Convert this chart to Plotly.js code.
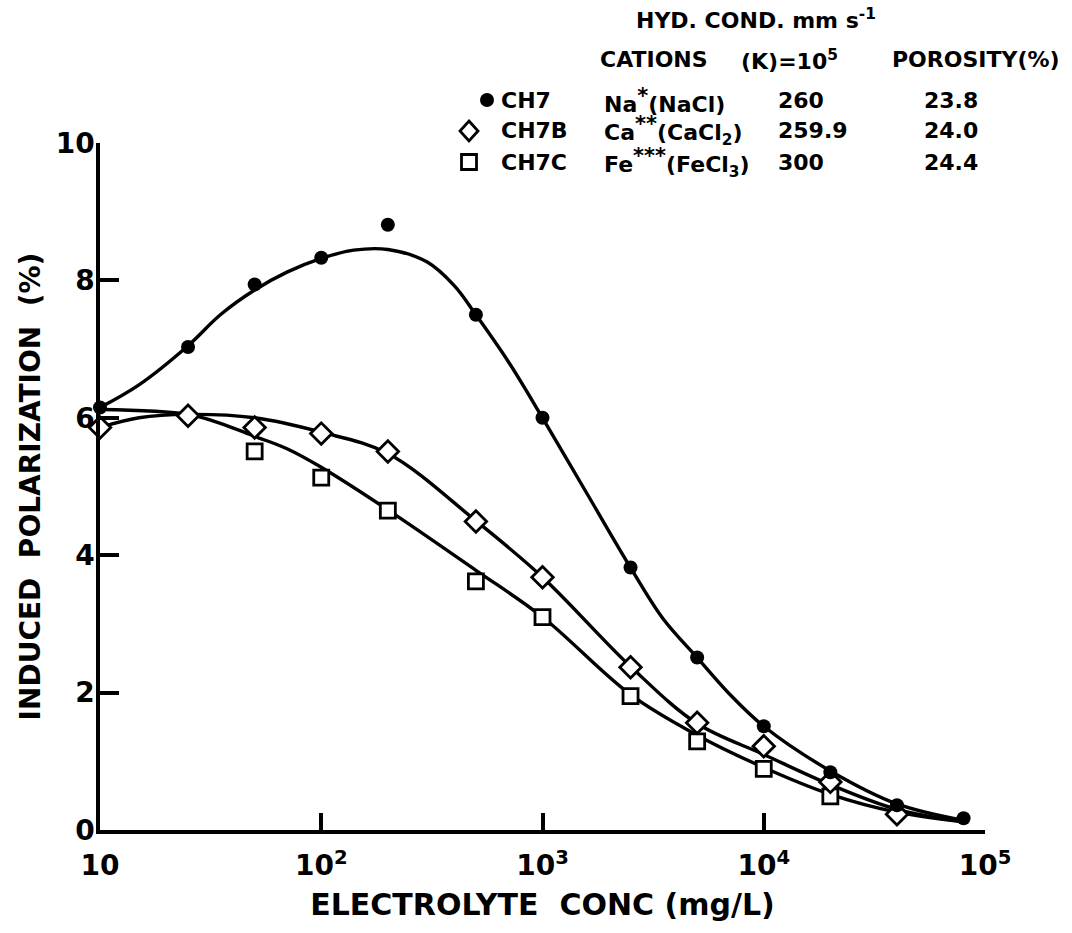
<!DOCTYPE html>
<html>
<head>
<meta charset="utf-8">
<script src="https://cdn.plot.ly/plotly-3.0.1.min.js"></script>
<style>
  html, body { margin: 0; padding: 0; background: #fff; }
  #chart { width: 1072px; height: 933px; }
</style>
</head>
<body>
<div id="chart"></div>
<script>
// Measured induced polarization vs. electrolyte concentration (mg/L)
const naConc   = [10, 25, 50, 100, 200, 500, 1000, 2500, 5000, 10000, 20000, 40000, 80000];
const naIP     = [6.15, 7.03, 7.94, 8.33, 8.81, 7.5, 6.0, 3.82, 2.51, 1.51, 0.84, 0.36, 0.17];

const caConc   = [10, 25, 50, 100, 200, 500, 1000, 2500, 5000, 10000, 20000, 40000];
const caIP     = [5.86, 6.03, 5.86, 5.77, 5.51, 4.49, 3.68, 2.37, 1.56, 1.22, 0.70, 0.23];

const feConc   = [50, 100, 200, 500, 1000, 2500, 5000, 10000, 20000];
const feIP     = [5.51, 5.13, 4.65, 3.62, 3.10, 1.95, 1.29, 0.89, 0.49];

// Hand-fitted smooth curves through each set
const naFitConc = [10, 15, 25, 35, 50, 70, 100, 140, 200, 300, 400, 500, 700, 1000, 1600, 2500, 3500, 5000, 7000, 10000, 20000, 40000, 80000];
const naFitIP   = [6.15, 6.48, 7.05, 7.5, 7.86, 8.12, 8.32, 8.44, 8.45, 8.27, 7.92, 7.5, 6.82, 6.0, 4.88, 3.82, 3.08, 2.51, 1.98, 1.51, 0.86, 0.38, 0.14];

const caFitConc = [10, 15, 25, 50, 100, 200, 500, 1000, 2500, 5000, 10000, 20000, 40000, 80000];
const caFitIP   = [5.86, 6.0, 6.05, 6.0, 5.79, 5.48, 4.5, 3.68, 2.38, 1.55, 1.1, 0.66, 0.3, 0.12];

const feFitConc = [10, 25, 35, 50, 70, 100, 200, 500, 1000, 2500, 5000, 10000, 20000, 40000, 80000];
const feFitIP   = [6.12, 6.05, 5.92, 5.73, 5.55, 5.28, 4.66, 3.78, 3.1, 1.97, 1.38, 0.91, 0.52, 0.26, 0.12];

// Axis ticks
const xTickVals  = [10, 100, 1000, 10000, 100000];
const xTickText  = ['10', '10<sup>2</sup>', '10<sup>3</sup>', '10<sup>4</sup>', '10<sup>5</sup>'];
const yTickVals  = [0, 2, 4, 6, 8, 10];

// Sample table in the header
const sampleIds  = ['CH7', 'CH7B', 'CH7C'];
const star = n => '<sup><span style="font-size:21px">' + '*'.repeat(n) + '</span></sup>';
const cations    = ['Na' + star(1) + '(NaCl)', 'Ca' + star(2) + '(CaCl<sub>2</sub>)', 'Fe' + star(3) + '(FeCl<sub>3</sub>)'];
const hydCond    = ['260', '259.9', '300'];
const porosity   = ['23.8', '24.0', '24.4'];

const FONT = 'DejaVu Sans, Liberation Sans, sans-serif';
const INK = '#000';

// Plot-area edges in page pixels
const L = 100, R = 985, T = 143, B = 830;
const W = 1072, H = 933;
const px = x => (x - L) / (R - L);
const py = y => (B - y) / (B - T);

const curve = (x, y) => ({
  x, y, type: 'scatter', mode: 'lines', hoverinfo: 'skip', showlegend: false,
  line: { color: INK, width: 3.4, shape: 'spline', smoothing: 1 }
});

const traces = [
  curve(naFitConc, naFitIP),
  curve(caFitConc, caFitIP),
  curve(feFitConc, feFitIP),
  {
    x: feConc, y: feIP, type: 'scatter', mode: 'markers', name: 'CH7C', cliponaxis: false,
    marker: { symbol: 'square', size: 15, color: '#fff', line: { color: INK, width: 2.8 } }
  },
  {
    x: caConc, y: caIP, type: 'scatter', mode: 'markers', name: 'CH7B', cliponaxis: false,
    marker: { symbol: 'diamond', size: 16.5, color: '#fff', line: { color: INK, width: 2.8 } }
  },
  {
    x: naConc, y: naIP, type: 'scatter', mode: 'markers', name: 'CH7', cliponaxis: false,
    marker: { symbol: 'circle', size: 14, color: INK, line: { width: 0 } }
  }
];

const hf = { family: FONT, size: 22, color: INK, weight: 'bold' };
const note = (x, y, text, anchor) => ({
  xref: 'paper', yref: 'paper', x: px(x), y: py(y), xanchor: anchor || 'left', yanchor: 'middle',
  text, showarrow: false, font: hf
});

const rowY = [100, 131, 162];
const annotations = [
  note(756, 19, 'HYD. COND. mm s<sup>-1</sup>', 'center'),
  note(654, 60, 'CATIONS', 'center'),
  note(789, 60, '(K)=10<sup>5</sup>', 'center'),
  note(1062, 60, 'POROSITY(%)', 'right')
];
sampleIds.forEach((id, i) => {
  annotations.push(note(499, rowY[i], id));
  annotations.push(note(602, rowY[i], cations[i]));
  annotations.push(note(776, rowY[i], hydCond[i]));
  annotations.push(note(922, rowY[i], porosity[i]));
});

// Legend symbols for the header table
const sym = (x, y, extra) => Object.assign({
  xref: 'paper', yref: 'paper', xsizemode: 'pixel', ysizemode: 'pixel',
  xanchor: px(x), yanchor: py(y)
}, extra);
const shapes = [
  sym(487, rowY[0], { type: 'circle', x0: -7, x1: 7, y0: -7, y1: 7, fillcolor: INK, line: { width: 0 } }),
  sym(469, rowY[1], { type: 'path', path: 'M0,10 L9,0 L0,-10 L-9,0 Z', fillcolor: '#fff', line: { color: INK, width: 2.8 } }),
  sym(469, rowY[2], { type: 'rect', x0: -7.5, x1: 7.5, y0: -7.5, y1: 7.5, fillcolor: '#fff', line: { color: INK, width: 2.8 } })
];

const layout = {
  width: W, height: H,
  margin: { l: L, r: W - R, t: T, b: H - B, pad: 0 },
  paper_bgcolor: '#fff', plot_bgcolor: '#fff',
  showlegend: false,
  font: { family: FONT, color: INK, size: 22 },
  xaxis: {
    type: 'log', range: [1, 5], showgrid: false, zeroline: false,
    showline: true, linecolor: INK, linewidth: 3.5,
    ticks: 'inside', ticklen: 17, tickwidth: 3.5, tickcolor: INK,
    tickmode: 'array', tickvals: xTickVals, ticktext: xTickText,
    tickfont: { family: FONT, size: 28, color: INK, weight: 'bold' },
    ticklabelstandoff: 8,
    title: { text: 'ELECTROLYTE\u00A0\u00A0CONC (mg/L)', standoff: 14,
             font: { family: FONT, size: 30, color: INK, weight: 'bold' } }
  },
  yaxis: {
    range: [0, 10], showgrid: false, zeroline: false,
    showline: true, linecolor: INK, linewidth: 3.5,
    ticks: 'inside', ticklen: 19, tickwidth: 3.5, tickcolor: INK,
    tickmode: 'array', tickvals: yTickVals,
    tickfont: { family: FONT, size: 28, color: INK, weight: 'bold' },
    ticklabelstandoff: -4,
    title: { text: 'INDUCED\u00A0\u00A0POLARIZATION\u00A0\u00A0(%)', standoff: 8,
             font: { family: FONT, size: 28, color: INK, weight: 'bold' } }
  },
  annotations, shapes
};

Plotly.newPlot('chart', traces, layout, { displayModeBar: false });
</script>
</body>
</html>
